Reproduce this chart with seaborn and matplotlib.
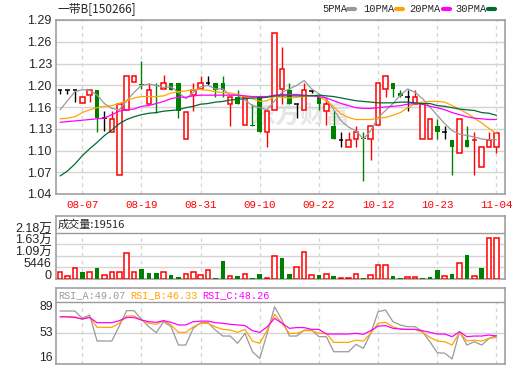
import numpy as np
import matplotlib
matplotlib.use('Agg')
import matplotlib.pyplot as plt
from matplotlib.lines import Line2D
import seaborn as sns

# ---- values ----
title = '一带B[150266]'
date_ticks = [3, 11, 19, 27, 35, 43, 51, 59]
date_labels = ['08-07', '08-19', '08-31', '09-10', '09-22', '10-12', '10-23', '11-04']
price_ticks = [1.04, 1.07125, 1.1025, 1.13375, 1.165, 1.19625, 1.2275, 1.25875, 1.29]
price_labels = ['1.04', '1.07', '1.10', '1.13', '1.16', '1.20', '1.23', '1.26', '1.29']

opens = [1.189, 1.189, 1.189, 1.171, 1.182, 1.190, 1.149, 1.129, 1.068, 1.160,
         1.201, 1.198, 1.170, 1.197, 1.191, 1.200, 1.200, 1.119, 1.182, 1.191,
         1.200, 1.200, 1.200, 1.170, 1.180, 1.139, 1.139, 1.180, 1.129, 1.160,
         1.191, 1.190, 1.170, 1.160, 1.188, 1.180, 1.159, 1.138, 1.118, 1.108,
         1.119, 1.120, 1.119, 1.139, 1.191, 1.200, 1.185, 1.179, 1.170, 1.119,
         1.119, 1.138, 1.129, 1.118, 1.099, 1.118, 1.118, 1.079, 1.108, 1.108]
highs = [1.189, 1.189, 1.189, 1.179, 1.190, 1.190, 1.159, 1.159, 1.170, 1.210,
         1.210, 1.231, 1.199, 1.200, 1.211, 1.200, 1.200, 1.158, 1.200, 1.210,
         1.210, 1.200, 1.210, 1.180, 1.190, 1.180, 1.170, 1.180, 1.159, 1.271,
         1.251, 1.200, 1.170, 1.200, 1.190, 1.180, 1.180, 1.159, 1.129, 1.129,
         1.138, 1.129, 1.138, 1.200, 1.210, 1.200, 1.190, 1.190, 1.190, 1.170,
         1.148, 1.148, 1.138, 1.118, 1.148, 1.138, 1.129, 1.108, 1.129, 1.128]
lows = [1.183, 1.183, 1.172, 1.171, 1.172, 1.129, 1.131, 1.129, 1.068, 1.160,
        1.201, 1.191, 1.170, 1.156, 1.191, 1.190, 1.149, 1.119, 1.159, 1.191,
        1.196, 1.180, 1.180, 1.138, 1.170, 1.139, 1.138, 1.129, 1.108, 1.160,
        1.170, 1.170, 1.149, 1.160, 1.185, 1.160, 1.139, 1.119, 1.108, 1.108,
        1.108, 1.058, 1.089, 1.139, 1.180, 1.180, 1.180, 1.159, 1.170, 1.119,
        1.119, 1.119, 1.119, 1.068, 1.099, 1.108, 1.068, 1.079, 1.108, 1.099]
closes = [1.189, 1.189, 1.189, 1.179, 1.190, 1.149, 1.149, 1.148, 1.170, 1.210,
          1.210, 1.196, 1.190, 1.195, 1.200, 1.190, 1.159, 1.158, 1.190, 1.200,
          1.200, 1.190, 1.190, 1.180, 1.170, 1.180, 1.138, 1.129, 1.159, 1.271,
          1.220, 1.170, 1.170, 1.190, 1.188, 1.170, 1.170, 1.119, 1.118, 1.118,
          1.129, 1.119, 1.138, 1.200, 1.210, 1.191, 1.181, 1.179, 1.180, 1.170,
          1.148, 1.129, 1.129, 1.108, 1.148, 1.108, 1.118, 1.108, 1.118, 1.128]
candle_kind = list('kkkrrgkrrr' 'rgrgrggrrr' 'kggrgrggrr' 'rgkrkgrgkr' 'rgrrrggkrr' 'rgkgrgrrrr')

ma5 = [1.161, 1.174, 1.187, 1.190, 1.189, 1.182, 1.170, 1.163, 1.161, 1.174,
       1.186, 1.196, 1.198, 1.196, 1.193, 1.194, 1.186, 1.177, 1.186, 1.194,
       1.196, 1.191, 1.191, 1.182, 1.182, 1.175, 1.167, 1.164, 1.161, 1.174,
       1.186, 1.191, 1.196, 1.203, 1.191, 1.184, 1.177, 1.161, 1.145, 1.136,
       1.131, 1.119, 1.131, 1.150, 1.160, 1.170, 1.182, 1.191, 1.186, 1.177,
       1.165, 1.153, 1.141, 1.131, 1.126, 1.124, 1.122, 1.119, 1.118, 1.118]
ma10 = [1.148, 1.149, 1.151, 1.157, 1.161, 1.164, 1.166, 1.167, 1.170, 1.174,
        1.178, 1.180, 1.180, 1.180, 1.181, 1.185, 1.187, 1.188, 1.190, 1.190,
        1.189, 1.187, 1.186, 1.185, 1.183, 1.180, 1.177, 1.173, 1.174, 1.180,
        1.179, 1.178, 1.179, 1.180, 1.182, 1.180, 1.174, 1.165, 1.155, 1.150,
        1.147, 1.147, 1.147, 1.149, 1.150, 1.153, 1.157, 1.164, 1.170, 1.172,
        1.173, 1.173, 1.172, 1.167, 1.162, 1.156, 1.149, 1.142, 1.134, 1.127]
ma20 = [1.143, 1.144, 1.145, 1.146, 1.147, 1.148, 1.149, 1.154, 1.159, 1.161,
        1.162, 1.166, 1.167, 1.170, 1.173, 1.177, 1.179, 1.179, 1.181, 1.182,
        1.182, 1.182, 1.182, 1.182, 1.182, 1.181, 1.180, 1.180, 1.180, 1.182,
        1.183, 1.183, 1.183, 1.182, 1.181, 1.180, 1.178, 1.174, 1.170, 1.167,
        1.164, 1.163, 1.163, 1.164, 1.165, 1.166, 1.167, 1.169, 1.170, 1.169,
        1.166, 1.164, 1.161, 1.157, 1.154, 1.151, 1.149, 1.148, 1.147, 1.147]
ma30 = [1.066, 1.073, 1.083, 1.095, 1.105, 1.114, 1.124, 1.132, 1.141, 1.147,
        1.151, 1.154, 1.156, 1.157, 1.159, 1.160, 1.161, 1.164, 1.166, 1.169,
        1.170, 1.172, 1.173, 1.175, 1.176, 1.177, 1.178, 1.178, 1.179, 1.181,
        1.181, 1.181, 1.181, 1.181, 1.181, 1.182, 1.181, 1.180, 1.178, 1.176,
        1.174, 1.173, 1.172, 1.171, 1.171, 1.171, 1.172, 1.172, 1.171, 1.170,
        1.170, 1.167, 1.166, 1.164, 1.162, 1.161, 1.160, 1.157, 1.156, 1.153]

volume = [3112, 1400, 4980, 3112, 3112, 5290, 1867, 3112, 3112, 12448,
          3112, 4668, 2800, 2800, 3112, 1867, 934, 2334, 3112, 1867,
          4046, 622, 8402, 1400, 1400, 2178, 622, 2334, 622, 10736,
          9958, 2334, 5600, 12600, 1867, 1867, 2178, 1400, 467, 467,
          2178, 622, 1867, 6380, 6380, 1400, 622, 934, 934, 622,
          1089, 4200, 1400, 2334, 7313, 11203, 1400, 5290, 19450, 19516]
volume_kind = list('rrrgrgrrrr' 'rgggrggrrr' 'rggrgrggrr' 'ggrrrgrgrr' 'rgrrrggrrg' 'ggrgrgrgrr')
vol_ticks = [0, 5446, 10892, 16338, 21784]
vol_labels = ['0', '5446', '1.09万', '1.63万', '2.18万']

rsi_a = [83, 83, 83, 72.9, 77.5, 41.4, 41.4, 41.4, 62, 83.5,
         83.5, 71.5, 61.2, 52.9, 68.2, 61.2, 35.8, 35.8, 59, 66.8,
         66.8, 56.6, 48.3, 48.3, 38.2, 52, 26.5, 17.3, 52, 89,
         70.5, 48.3, 48.3, 56.6, 56.6, 47.4, 47.4, 26.5, 26.5, 26.5,
         36.7, 31.2, 52, 82.1, 84.4, 68.2, 63.6, 61.2, 61.2, 54.3,
         40.4, 25.1, 24.5, 16.4, 54.3, 35.8, 40.4, 35.8, 45, 49.07]
rsi_b = [75, 75, 75, 71.5, 75, 60.4, 60.4, 60.4, 66, 76.1,
         76.1, 70.5, 66, 64.6, 69.6, 63.7, 53.4, 53.4, 61, 66,
         66, 61, 57.5, 56.6, 53.4, 57.5, 41.4, 38.2, 56.6, 78.4,
         66, 52, 52, 55.7, 55.7, 52, 52, 39.5, 39.5, 39.5,
         42.5, 41.4, 52, 66, 67.3, 61, 58, 57.5, 57.5, 53.4,
         46.5, 41.4, 40.4, 35.8, 53.4, 41.4, 42.5, 41.4, 45, 46.33]
rsi_c = [75, 75, 74, 72, 74, 66.8, 66.8, 66.8, 69.6, 74,
         74, 70.5, 68.2, 67.3, 69.6, 67.3, 63.7, 63.7, 68.2, 69,
         69, 66.8, 66, 64.6, 63.7, 62.8, 55.7, 53.4, 61, 72.9,
         66, 59, 60, 60, 57.5, 57.5, 51.1, 51.1, 51.1, 51.1,
         52, 50.6, 55.7, 62, 62.8, 59, 58, 57.5, 57.5, 55.7,
         53.4, 51.1, 51.1, 47.4, 54.3, 47.4, 48.3, 48.3, 49.7, 48.26]
rsi_ticks = [16, 53, 89]

# ---- style ----
RED, GREEN, FRAME, GRID = '#ff0000', '#008000', '#999999', '#d4d4d4'
MA_COLORS = ['#999999', '#ffa500', '#ff00ff', '#006a32']
W, H = 520, 365

sns.set_style('white')
plt.rcParams['font.family'] = ['Liberation Sans', 'Noto Sans CJK SC']
MONO = ['Liberation Mono', 'Noto Sans CJK SC']
CJK = ['Noto Sans CJK SC', 'DejaVu Sans']

fig = plt.figure(figsize=(W / 100, H / 100), dpi=100)


def panel(top, bottom):
    a = fig.add_axes([56 / W, 1 - bottom / H, (505 - 56) / W, (bottom - top) / H])
    for s in a.spines.values():
        s.set_color(FRAME)
        s.set_linewidth(1.1)
    a.tick_params(length=0, labelsize=9, pad=3)
    a.set_xlim(-0.55, 60.15)
    return a


x = np.arange(len(closes))
bw = 0.62

# ---- price panel ----
ax = panel(20, 194)
ax.set_ylim(1.04, 1.29)
ax.set_yticks(price_ticks, price_labels)
ax.yaxis.grid(True, color=GRID, lw=1)
ax.vlines(date_ticks, 1.04, 1.29, color=GRID, lw=0.9, ls=(0, (3, 3)), zorder=1)
ax.text(32.5, 1.153, '东方财富', fontsize=18, color='#e6e6e6', ha='center', va='center',
        family=CJK, fontweight='bold', style='italic', zorder=0)

for i in x:
    o, h, l, c, k = opens[i], highs[i], lows[i], closes[i], candle_kind[i]
    lo_b, hi_b = min(o, c), max(o, c)
    col = {'r': RED, 'g': GREEN, 'k': 'black'}[k]
    if k == 'k' or hi_b - lo_b < 0.0008:
        ax.vlines(i, l, h, color=col, lw=1, zorder=2)
        ax.hlines(o, i - bw / 2, i + bw / 2, color=col, lw=1.1, zorder=2)
    elif k == 'r':
        ax.vlines(i, hi_b, h, color=col, lw=1, zorder=2)
        ax.vlines(i, l, lo_b, color=col, lw=1, zorder=2)
        ax.bar(i, hi_b - lo_b, bottom=lo_b, width=bw, facecolor='white',
               edgecolor=col, lw=1.1, zorder=3)
    else:
        ax.vlines(i, l, h, color=col, lw=1, zorder=2)
        ax.bar(i, hi_b - lo_b, bottom=lo_b, width=bw, color=col, lw=0, zorder=3)

for arr, colr in zip([ma5, ma10, ma20, ma30], MA_COLORS):
    sns.lineplot(x=x, y=arr, ax=ax, color=colr, lw=0.9, legend=False, zorder=4)
ax.set_xticks(date_ticks, date_labels)
ax.tick_params(axis='x', pad=4.5, labelcolor=RED)
for t in ax.get_xticklabels():
    t.set_family(MONO)
    t.set_fontsize(7.8)
ax.set_xlabel('')
ax.set_ylabel('')

# ---- volume panel ----
axv = panel(216, 279)
axv.set_ylim(0, 21784 * 63 / 46.3)
axv.set_yticks(vol_ticks, vol_labels)
for t in axv.get_yticklabels():
    t.set_va('baseline')
axv.hlines(vol_ticks[1:4], -0.55, 60.15, color=GRID, lw=1)
axv.axhline(vol_ticks[-1], color=FRAME, lw=1)
axv.vlines(date_ticks, 0, vol_ticks[-1], color=GRID, lw=0.9, ls=(0, (3, 3)), zorder=1)
vr = [i for i in x if volume_kind[i] == 'r']
vg = [i for i in x if volume_kind[i] == 'g']
axv.bar(vr, [volume[i] for i in vr], width=bw, facecolor='white', edgecolor=RED, lw=1.1, zorder=3)
axv.bar(vg, [volume[i] for i in vg], width=bw, color=GREEN, lw=0, zorder=3)
axv.set_xticks([])

# ---- RSI panel ----
axr = panel(288, 364)
axr.set_ylim(9.48, 114.95)
axr.set_yticks([])
# labels placed by hand so the lowest one stays inside the figure
for v in rsi_ticks:
    axr.text(-3 / 449, v + (2.5 if v == 16 else 0), str(v), transform=axr.get_yaxis_transform(),
             ha='right', va='center', fontsize=8.8)
axr.axhline(53, color=GRID, lw=1)
axr.axhline(95.9, color=FRAME, lw=1)
axr.vlines(date_ticks, 9.48, 95.9, color=GRID, lw=0.9, ls=(0, (3, 3)), zorder=1)
for arr, colr in zip([rsi_a, rsi_b, rsi_c], ['#999999', '#ffa500', '#ff00ff']):
    sns.lineplot(x=x, y=arr, ax=axr, color=colr, lw=0.9, legend=False, zorder=4)
axr.set_xticks([])
axr.set_xlabel('')
axr.set_ylabel('')

# ---- header texts ----
def fx(px):
    return px / W


def fy(py):
    return 1 - py / H


fig.text(fx(57), fy(8.5), title, fontsize=8.5, family=CJK, va='center')
legend_items = [('5PMA', 322, 348), ('10PMA', 363, 396), ('20PMA', 409, 443), ('30PMA', 455, 488)]
for (name, tx, mx), colr in zip(legend_items, MA_COLORS):
    fig.text(fx(tx), fy(8.5), name, fontsize=7.5, family=MONO, va='center')
    fig.add_artist(Line2D([fx(mx), fx(mx + 7)], [fy(8.5), fy(8.5)], color=colr, lw=3))

fig.text(fx(58), fy(224.5), '成交量:' + str(volume[-1]), fontsize=8, family=CJK, va='center')
rsi_names = [('RSI_A', rsi_a[-1], '#999999', 58), ('RSI_B', rsi_b[-1], '#ffa500', 130),
             ('RSI_C', rsi_c[-1], '#ff00ff', 202)]
for name, val, colr, tx in rsi_names:
    fig.text(fx(tx), fy(295), f'{name}:{val:.2f}', fontsize=7.3, family=MONO,
             color=colr, va='center')

fig.savefig('out.png', dpi=100)
